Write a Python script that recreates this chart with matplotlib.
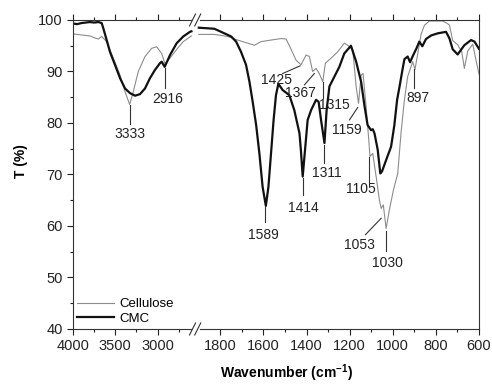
import numpy as np
import matplotlib
matplotlib.use("Agg")
import matplotlib.pyplot as plt

plt.rcParams['font.family'] = ['Liberation Sans', 'DejaVu Sans']
plt.rcParams['mathtext.default'] = 'regular'

# ---- spectra ----
# high wavenumber window (4000 - 2600 cm-1)
cell_hi_wn = [4000, 3900, 3800, 3740, 3700, 3661, 3602, 3524, 3444, 3385, 3346, 3330, 3287,
              3228, 3149, 3070, 3011, 2952, 2913, 2853, 2774, 2696, 2600]
cell_hi_t = [97.3, 97.1, 96.9, 96.5, 96.3, 96.8, 95.8, 92.6, 89.3, 86.1, 84.3, 83.6, 86.1,
             90.0, 92.9, 94.5, 94.8, 93.5, 91.5, 92.6, 94.3, 95.8, 96.9]
cmc_hi_wn = [4000, 3950, 3900, 3850, 3800, 3750, 3700, 3661, 3642, 3602, 3563, 3504, 3444,
             3385, 3326, 3267, 3208, 3149, 3090, 3031, 2972, 2952, 2916, 2853, 2774, 2696,
             2617, 2600]
cmc_hi_t = [99.3, 99.2, 99.4, 99.5, 99.6, 99.5, 99.6, 99.4, 98.4, 96.1, 93.8, 91.3, 88.7,
            86.7, 85.8, 85.3, 85.6, 86.7, 88.7, 90.3, 91.6, 91.9, 90.9, 93.2, 95.5, 96.8,
            97.7, 97.8]

# fingerprint window (1900 - 600 cm-1)
cell_lo_wn = [1900, 1828, 1766, 1720, 1673, 1642, 1611, 1565, 1518, 1495, 1475, 1449, 1426,
              1402, 1387, 1372, 1356, 1341, 1325, 1313, 1286, 1256, 1225, 1209, 1186, 1170,
              1159, 1147, 1138, 1124, 1112, 1106, 1093, 1075, 1062, 1054, 1044, 1031, 1016,
              997, 977, 962, 946, 931, 908, 897, 884, 869, 853, 830, 769, 750, 737, 722,
              699, 680, 668, 652, 629, 613, 600]
cell_lo_t = [97.2, 97.2, 96.8, 96.1, 95.5, 95.1, 95.8, 96.1, 96.4, 96.3, 94.6, 92.2, 91.3,
             93.2, 92.9, 90.0, 90.6, 89.6, 88.0, 91.6, 92.6, 93.8, 95.5, 95.1, 94.2, 87.1,
             83.8, 89.3, 89.6, 83.2, 77.0, 73.5, 74.1, 68.9, 65.0, 63.4, 64.1, 59.5, 63.1,
             67.0, 70.2, 78.0, 84.5, 89.0, 91.9, 90.4, 93.5, 97.2, 99.0, 99.8, 99.8, 99.4,
             99.0, 96.0, 95.2, 93.8, 90.6, 94.0, 95.3, 92.0, 89.5]
cmc_lo_wn = [1900, 1828, 1781, 1750, 1727, 1704, 1681, 1665, 1650, 1634, 1619, 1604, 1589,
             1577, 1565, 1553, 1542, 1531, 1511, 1480, 1457, 1433, 1426, 1418, 1395, 1379,
             1356, 1344, 1333, 1317, 1307, 1294, 1271, 1248, 1225, 1194, 1170, 1147, 1132,
             1117, 1101, 1093, 1085, 1070, 1058, 1050, 1031, 1008, 993, 980, 969, 954, 946,
             931, 920, 905, 890, 877, 863, 846, 822, 792, 753, 737, 722, 699, 668, 637,
             621, 600]
cmc_lo_t = [98.5, 98.3, 97.4, 96.8, 95.8, 93.8, 91.3, 88.0, 84.1, 79.6, 74.1, 67.6, 63.9,
            67.6, 74.1, 80.6, 85.4, 87.6, 86.4, 85.4, 82.5, 78.0, 74.5, 69.6, 80.6, 82.5,
            84.5, 84.1, 80.6, 76.1, 82.5, 87.1, 89.0, 90.9, 93.5, 95.0, 91.9, 88.0, 83.5,
            79.6, 78.6, 78.8, 78.0, 74.8, 70.2, 70.6, 72.8, 75.4, 79.5, 84.5, 87.0, 90.6,
            92.4, 92.9, 91.8, 93.2, 94.5, 95.8, 94.9, 96.3, 97.0, 97.4, 97.7, 96.4, 94.3,
            93.3, 95.1, 96.1, 95.8, 94.4]

# peak labels: text, leader start (wn, T), leader end (wn, T), text centre (wn, T)
peak_labels = [
    ('3333', (3326, 83.4), (3326, 79.8), (3324, 77.9)),
    ('2916', (2913, 90.7), (2913, 86.8), (2883, 84.7)),
    ('1425', (1430, 91.1), (1511, 89.6), (1538, 88.3)),
    ('1367', (1364, 89.6), (1410, 87.4), (1430, 85.8)),
    ('1315', (1322, 88.0), (1322, 84.9), (1272, 83.5)),
    ('1159', (1163, 83.0), (1201, 80.6), (1213, 78.6)),
    ('1311', (1317, 75.8), (1317, 72.2), (1308, 70.3)),
    ('1414', (1418, 69.4), (1418, 66.0), (1413, 63.4)),
    ('1589', (1593, 63.6), (1593, 60.8), (1601, 58.3)),
    ('1105', (1109, 73.3), (1109, 68.6), (1146, 67.1)),
    ('1053', (1054, 61.5), (1127, 58.3), (1156, 56.4)),
    ('1030', (1031, 59.0), (1031, 55.2), (1027, 52.8)),
    ('897', (900, 90.4), (900, 86.8), (885, 84.8)),
]

x_major = [4000, 3500, 3000, 1800, 1600, 1400, 1200, 1000, 800, 600]
x_minor = [3750, 3250, 2750, 1700, 1500, 1300, 1100, 900, 700]
y_major = [40, 50, 60, 70, 80, 90, 100]

# broken wavenumber axis: two linear pieces (px per cm-1 differ) with a small gap
WN_KNOTS = [0, 600, 1900, 2600, 4000, 10000]
PX_KNOTS = [-129.3, 0.0, 280.2, 287.6, 406.0, 913.6]


def fwd(w):
    return np.interp(w, WN_KNOTS, PX_KNOTS)


def inv(u):
    return np.interp(u, PX_KNOTS, WN_KNOTS)


fig = plt.figure(figsize=(4.92, 3.85), dpi=100)
ax = fig.add_axes([0.1484, 0.1455, 0.8252, 0.8026])
ax.set_xscale('function', functions=(fwd, inv))

ax.plot(cell_hi_wn, cell_hi_t, color='#8c8c8c', lw=0.8, label='Cellulose')
ax.plot(cell_lo_wn, cell_lo_t, color='#8c8c8c', lw=0.8)
ax.plot(cmc_hi_wn, cmc_hi_t, color='#111111', lw=1.6, label='CMC')
ax.plot(cmc_lo_wn, cmc_lo_t, color='#111111', lw=1.6)

for txt, p0, p1, pt in peak_labels:
    ax.plot([p0[0], p1[0]], [p0[1], p1[1]], color='#333333', lw=0.8)
    ax.text(pt[0], pt[1], txt, ha='center', va='center', fontsize=10, color='#222222')

ax.set_xlim(4000, 600)
ax.set_ylim(40, 100)
ax.set_xticks(x_major)
ax.set_xticklabels([str(v) for v in x_major])
ax.set_xticks(x_minor, minor=True)
ax.set_yticks(y_major)
ax.set_yticks(np.arange(45, 100, 10), minor=True)

ax.tick_params(which='both', direction='out', top=True, right=False, labelsize=10.5,
               colors='#222222', width=0.8)
ax.tick_params(which='major', length=4)
ax.tick_params(which='minor', length=2.5)
for s in ax.spines.values():
    s.set_color('#333333')
    s.set_linewidth(0.8)

# "//" marks on top and bottom spines
xc = (406.0 - (280.2 + 287.6) / 2) / 406.0
dx = 2.6 / 406.0
for yy in (0.0, 1.0):
    ax.plot([xc - dx, xc + dx], [yy, yy], color='white', lw=2.0, transform=ax.transAxes,
            clip_on=False, zorder=5)
    for off in (-dx, dx):
        ax.plot([xc + off - 3.0 / 406, xc + off + 3.0 / 406], [yy - 6.0 / 309, yy + 6.0 / 309],
                color='#333333', lw=0.8, transform=ax.transAxes, clip_on=False, zorder=6)

ax.legend(loc='lower left', frameon=False, fontsize=9.5, handlelength=2.8,
          handletextpad=0.4, labelspacing=0.2, borderaxespad=0.3, borderpad=0.0)

ax.set_xlabel('Wavenumber (cm$^{-1}$)', fontsize=10, fontweight='bold')
ax.xaxis.set_label_coords(0.526, -0.108)
ax.set_ylabel('T (%)', fontsize=10, fontweight='bold')
ax.yaxis.set_label_coords(-0.111, 0.542)

fig.savefig('out.png', dpi=100)
